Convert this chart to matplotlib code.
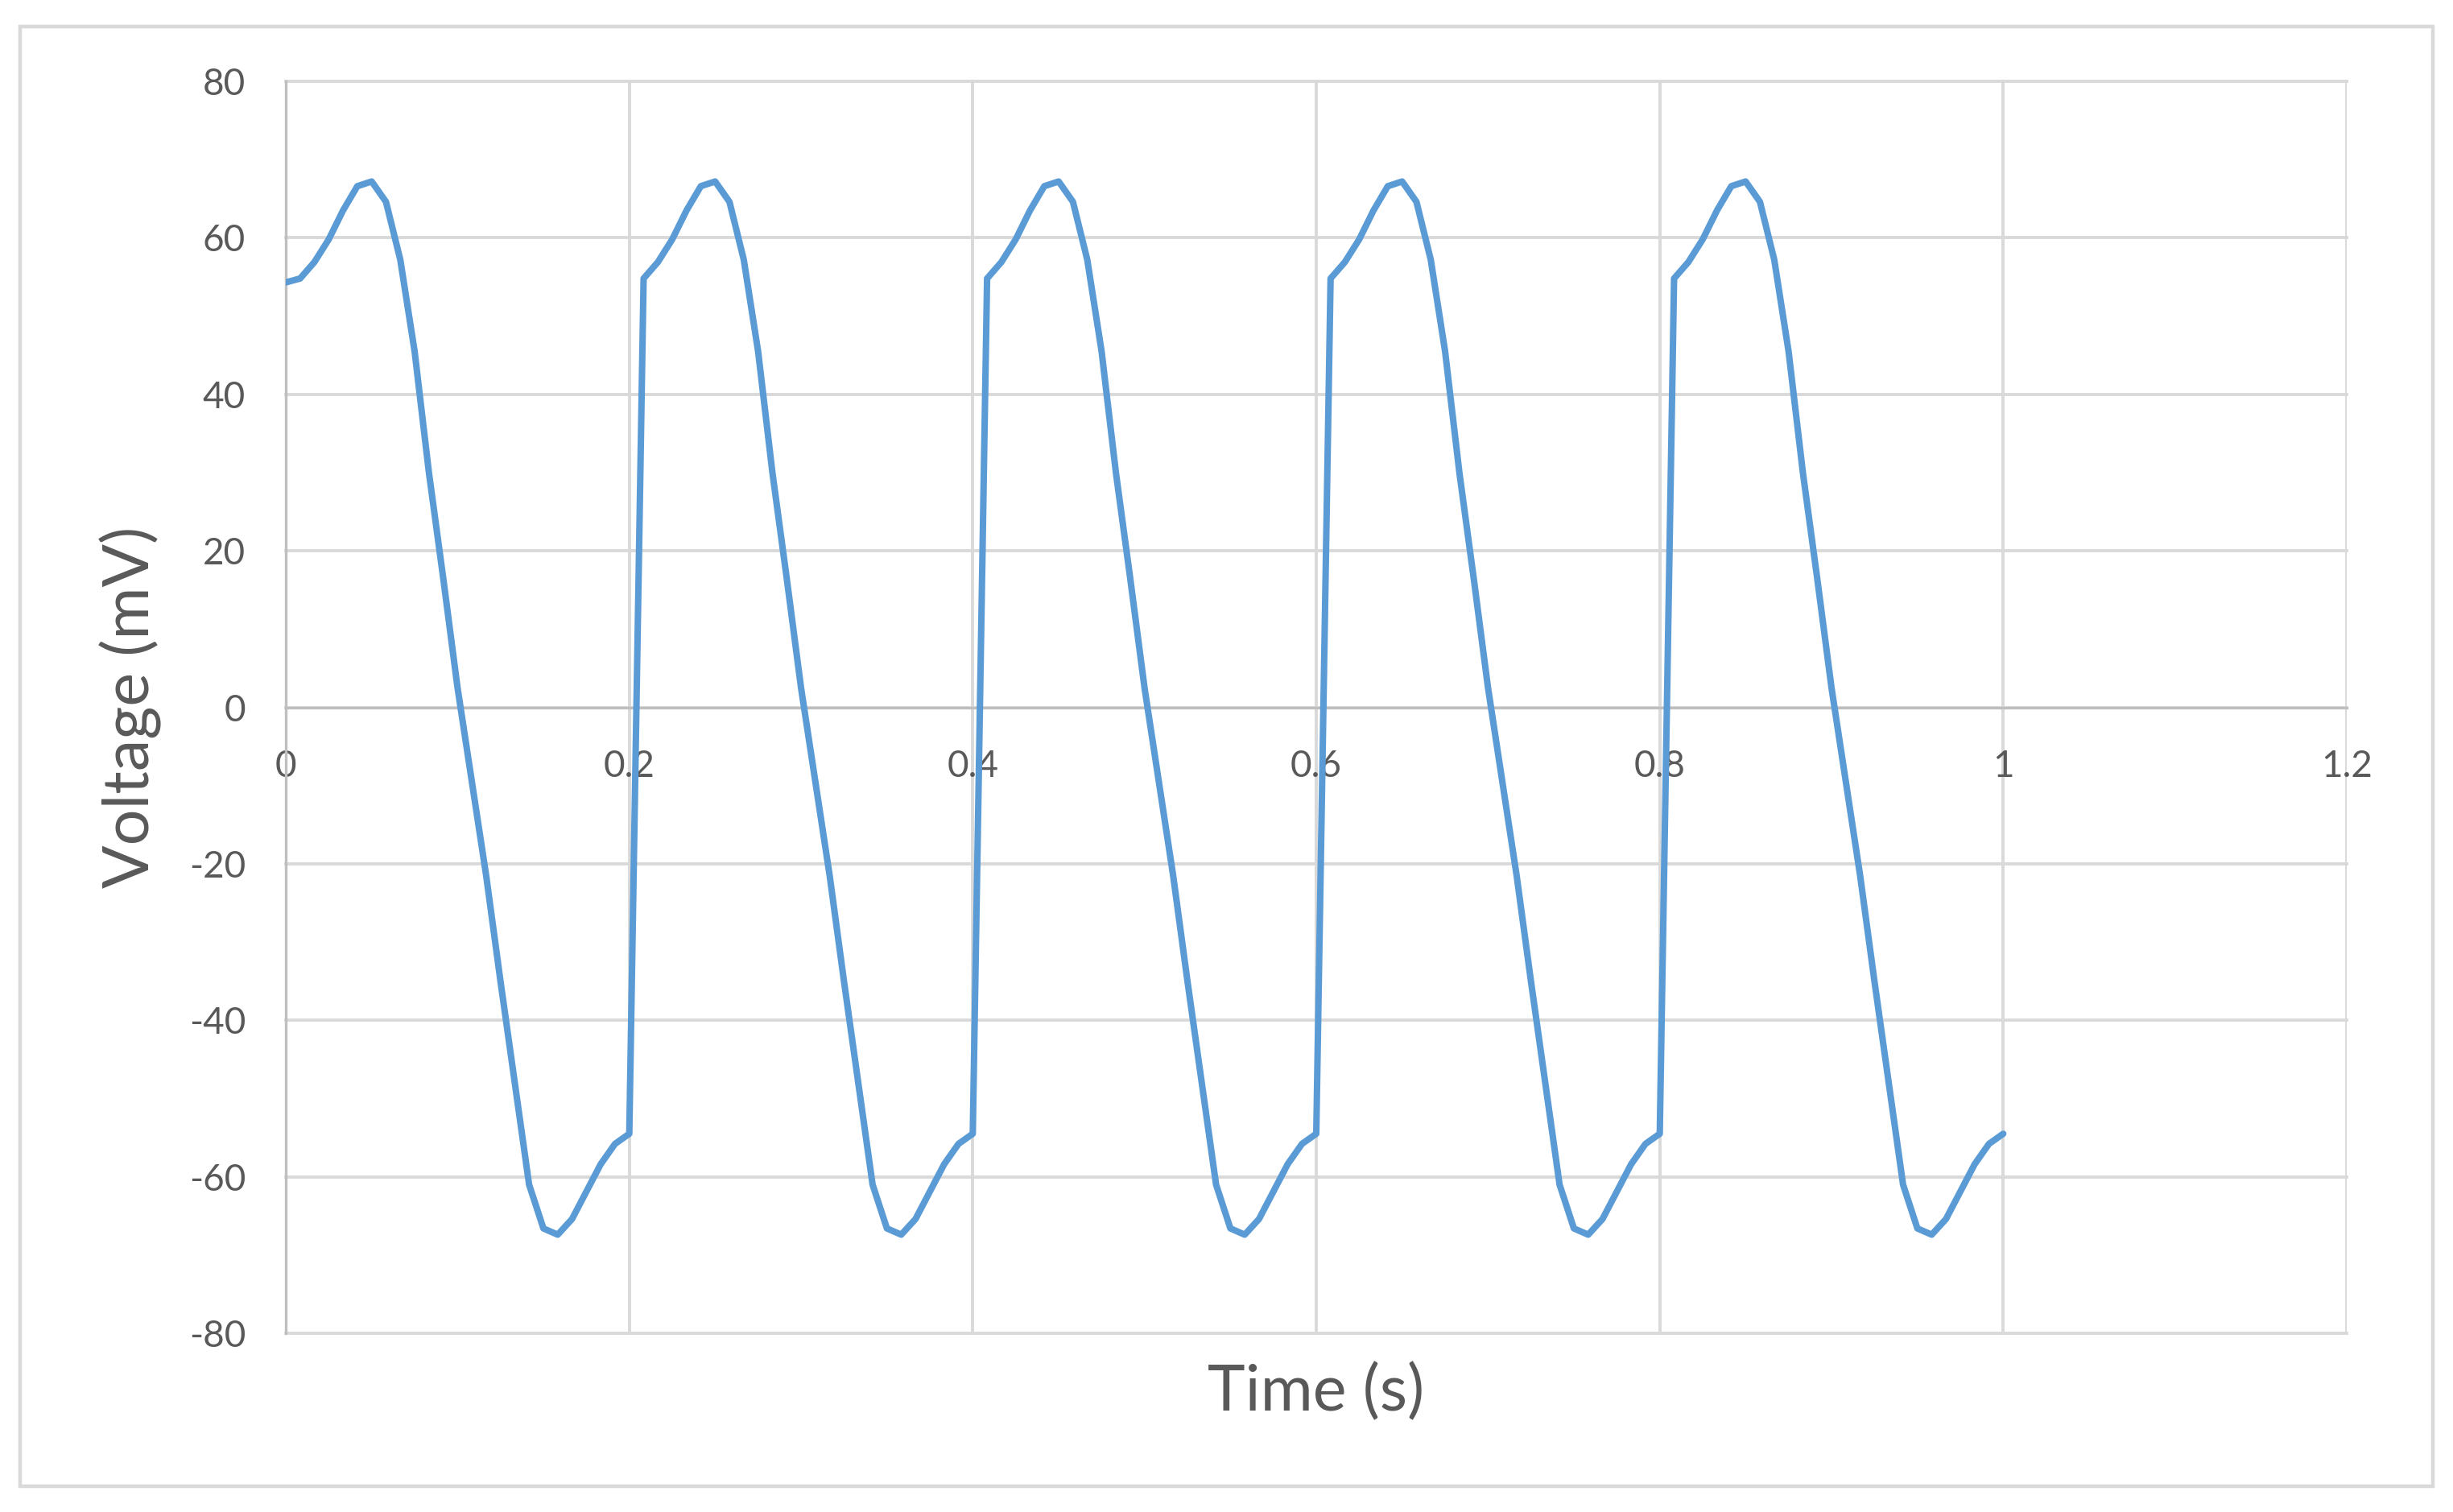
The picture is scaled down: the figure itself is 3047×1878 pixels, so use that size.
import matplotlib
matplotlib.use("Agg")
import matplotlib.pyplot as plt
from matplotlib.patches import Rectangle
import numpy as np

# sampled at 1/120 s, 0 .. 1 s
time_s = np.arange(121) / 120.0

# voltage readings (mV), one row per 0.2 s cycle
voltage_mv = [
    54.3,
    54.8, 56.9, 59.8, 63.5, 66.6, 67.2, 64.6, 57.2, 45.5, 30.0, 16.5, 2.5,
    -9.5, -21.5, -35.0, -48.0, -61.0, -66.6, -67.4, -65.4, -61.9, -58.4, -55.8, -54.5,
    54.8, 56.9, 59.8, 63.5, 66.6, 67.2, 64.6, 57.2, 45.5, 30.0, 16.5, 2.5,
    -9.5, -21.5, -35.0, -48.0, -61.0, -66.6, -67.4, -65.4, -61.9, -58.4, -55.8, -54.5,
    54.8, 56.9, 59.8, 63.5, 66.6, 67.2, 64.6, 57.2, 45.5, 30.0, 16.5, 2.5,
    -9.5, -21.5, -35.0, -48.0, -61.0, -66.6, -67.4, -65.4, -61.9, -58.4, -55.8, -54.5,
    54.8, 56.9, 59.8, 63.5, 66.6, 67.2, 64.6, 57.2, 45.5, 30.0, 16.5, 2.5,
    -9.5, -21.5, -35.0, -48.0, -61.0, -66.6, -67.4, -65.4, -61.9, -58.4, -55.8, -54.5,
    54.8, 56.9, 59.8, 63.5, 66.6, 67.2, 64.6, 57.2, 45.5, 30.0, 16.5, 2.5,
    -9.5, -21.5, -35.0, -48.0, -61.0, -66.6, -67.4, -65.4, -61.9, -58.4, -55.8, -54.5,
]

x_ticks = [0, 0.2, 0.4, 0.6, 0.8, 1.0, 1.2]
x_tick_labels = ["0", "0.2", "0.4", "0.6", "0.8", "1", "1.2"]
y_ticks = [-80, -60, -40, -20, 0, 20, 40, 60, 80]
y_tick_labels = ["-80", "-60", "-40", "-20", "0", "20", "40", "60", "80"]

TEXT = "#595959"
GRID = "#D9D9D9"
AXIS = "#BFBFBF"
BLUE = "#5B9BD5"

plt.rcParams["font.family"] = ["Lato", "DejaVu Sans"]

W, H, DPI = 3047, 1878, 200
fig = plt.figure(figsize=(W / DPI, H / DPI), dpi=DPI)
ax = fig.add_axes([355 / W, 1 - 1656 / H, (2915 - 355) / W, (1656 - 101) / H])

ax.plot(time_s, voltage_mv, color=BLUE, lw=2.9, solid_joinstyle="round",
        solid_capstyle="round", zorder=3)

ax.set_xlim(0, 1.2)
ax.set_ylim(-80, 80)
ax.set_xticks(x_ticks)
ax.set_xticklabels(x_tick_labels)
ax.set_yticks(y_ticks)
ax.set_yticklabels(y_tick_labels)

ax.grid(True, color=GRID, lw=1.4, zorder=0)
ax.set_axisbelow(True)
for ln in ax.get_xgridlines() + ax.get_ygridlines():
    ln.set_clip_on(False)

for side in ("top", "right"):
    ax.spines[side].set_visible(False)
ax.spines["left"].set_color(AXIS)
ax.spines["left"].set_linewidth(1.2)
ax.spines["bottom"].set_position(("data", 0))
ax.spines["bottom"].set_color(AXIS)
ax.spines["bottom"].set_linewidth(1.2)

ax.tick_params(axis="x", length=0, pad=19, labelsize=16.5, labelcolor=TEXT)
ax.tick_params(axis="y", length=0, pad=18, labelsize=16.5, labelcolor=TEXT)

ax.set_xlabel("Time (s)", fontsize=28.5, color=TEXT)
ax.xaxis.set_label_coords(0.5, -0.024)
ax.set_ylabel("Voltage (mV)", fontsize=28.5, color=TEXT)
ax.yaxis.set_label_coords(-0.060, 0.5)

# chart-area border
fig.patches.append(Rectangle((25 / W, 1 - 1846 / H), (3022 - 25) / W, (1846 - 33) / H,
                             transform=fig.transFigure, fill=False,
                             ec=GRID, lw=1.6))

fig.savefig("out.png", dpi=DPI, facecolor="white")
